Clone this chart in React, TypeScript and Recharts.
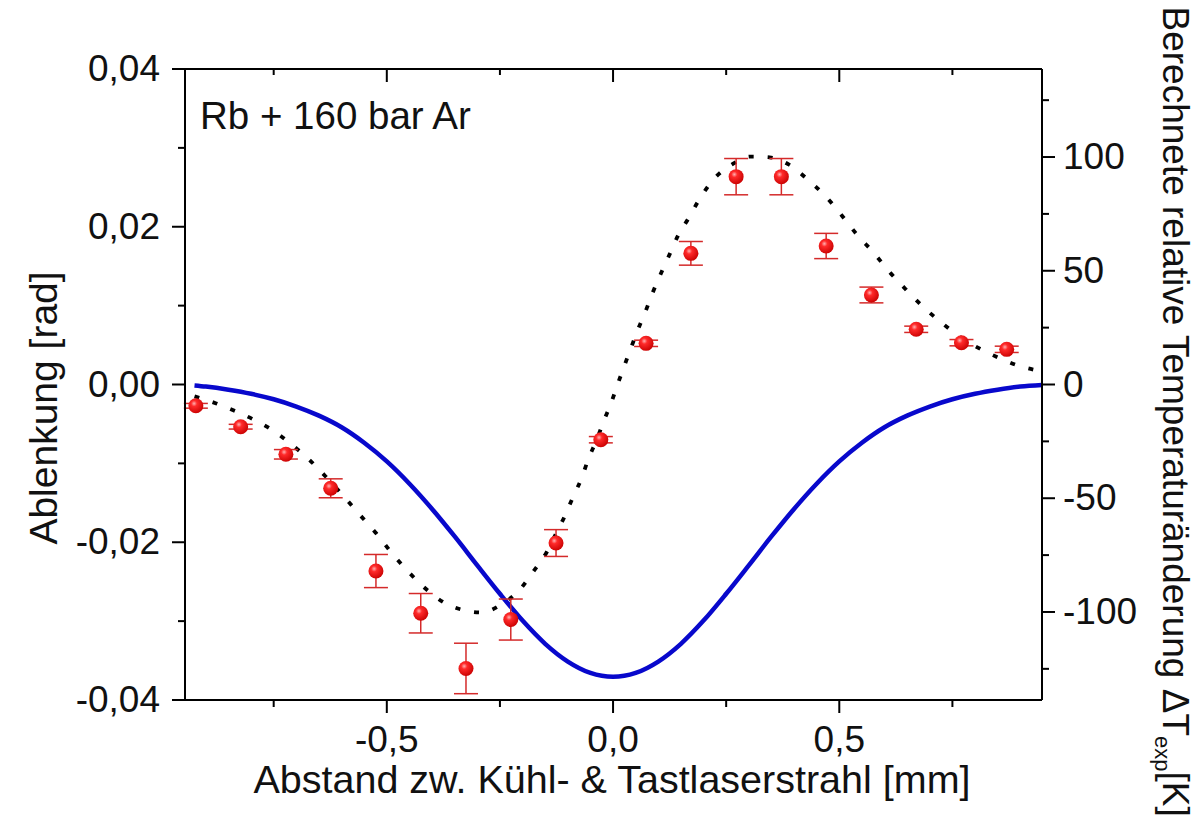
import React from "react";
import { ComposedChart, Line, Scatter, XAxis, YAxis, ErrorBar } from "recharts";

// ---- measured points (Ablenkung, left axis) ----
const pointX = [-0.922, -0.823, -0.723, -0.624, -0.524, -0.425, -0.325, -0.226, -0.126, -0.027, 0.073, 0.172, 0.272, 0.372, 0.471, 0.571, 0.670, 0.770, 0.870];
const pointY = [-0.0027, -0.00535, -0.00885, -0.01316, -0.02365, -0.029, -0.036, -0.0298, -0.0201, -0.007, 0.00522, 0.01663, 0.02635, 0.02635, 0.01756, 0.01135, 0.007, 0.0053, 0.00446];
const pointErr = [0.0003, 0.0003, 0.0006, 0.0012, 0.0021, 0.0025, 0.0032, 0.0026, 0.0017, 0.0004, 0.0004, 0.0015, 0.0023, 0.0023, 0.0016, 0.001, 0.0004, 0.0004, 0.0004];

// ---- dotted curve (left axis) ----
const dottedX = [-0.925, -0.877, -0.838, -0.796, -0.755, -0.713, -0.672, -0.633, -0.595, -0.56, -0.523, -0.49, -0.453, -0.414, -0.372, -0.331, -0.29, -0.25, -0.206, -0.176, -0.147, -0.126, -0.106, -0.088, -0.069, -0.055, -0.036, -0.021, -0.004, 0.01, 0.024, 0.04, 0.056, 0.072, 0.088, 0.106, 0.125, 0.143, 0.167, 0.19, 0.222, 0.263, 0.303, 0.346, 0.388, 0.428, 0.469, 0.506, 0.539, 0.576, 0.609, 0.648, 0.688, 0.729, 0.77, 0.812, 0.852, 0.895, 0.936];
const dottedY = [-0.0015, -0.0024, -0.0033, -0.0044, -0.0057, -0.0075, -0.0095, -0.0118, -0.0142, -0.0165, -0.0189, -0.0213, -0.0237, -0.0259, -0.0277, -0.0286, -0.0289, -0.028, -0.026, -0.0237, -0.0213, -0.0189, -0.0166, -0.0142, -0.0118, -0.0095, -0.007, -0.0047, -0.0023, 0.0, 0.0022, 0.0047, 0.0071, 0.0093, 0.0117, 0.0141, 0.0165, 0.0188, 0.0211, 0.0234, 0.026, 0.0279, 0.0289, 0.0288, 0.0279, 0.0261, 0.0239, 0.0214, 0.019, 0.0167, 0.0144, 0.012, 0.0097, 0.0077, 0.0059, 0.0045, 0.0034, 0.0024, 0.0018];

// ---- blue curve (right axis, ΔT) ----
const blueX = [-0.925, -0.9, -0.85, -0.8, -0.75, -0.7, -0.65, -0.6, -0.55, -0.5, -0.45, -0.4, -0.35, -0.3, -0.25, -0.2, -0.15, -0.1, -0.05, 0, 0.05, 0.1, 0.15, 0.2, 0.25, 0.3, 0.35, 0.4, 0.45, 0.5, 0.55, 0.6, 0.65, 0.7, 0.75, 0.8, 0.85, 0.9, 0.948];
const blueY = [-0.4, -0.9, -2.3, -4.1, -6.5, -9.7, -13.7, -18.8, -25.6, -33.8, -43.6, -54.7, -66.8, -79.5, -92.0, -103.8, -114.0, -121.8, -126.8, -128.5, -126.8, -121.8, -114.0, -103.8, -92.0, -79.5, -66.8, -54.7, -43.6, -33.8, -25.6, -18.8, -13.7, -9.7, -6.5, -4.1, -2.3, -0.9, -0.2];

// ---- ticks ----
const xMajorTicks = [-0.5, 0, 0.5];
const xMinorTicks = [-0.75, -0.25, 0.25, 0.75];
const xTickLabels = ["-0,5", "0,0", "0,5"];
const leftMajorTicks = [-0.04, -0.02, 0, 0.02, 0.04];
const leftMinorTicks = [-0.03, -0.01, 0.01, 0.03];
const leftTickLabels = ["-0,04", "-0,02", "0,00", "0,02", "0,04"];
const rightMajorTicks = [-100, -50, 0, 50, 100];
const rightMinorTicks = [-125, -75, -25, 25, 75, 125];
const rightTickLabels = ["-100", "-50", "0", "50", "100"];

const xDomain: [number, number] = [-0.946, 0.948];
const leftDomain: [number, number] = [-0.04, 0.04];
const rightDomain: [number, number] = [-138.7, 138.7];

const pointData = pointX.map((x, i) => ({ x, y: pointY[i], err: pointErr[i] }));
const dottedData = dottedX.map((x, i) => ({ x, y: dottedY[i] }));
const blueData = blueX.map((x, i) => ({ x, y: blueY[i] }));

const FONT = '"Liberation Sans", Arial, Helvetica, sans-serif';
const TICK_FS = 37;

const findIdx = (v: number, arr: number[]) => arr.findIndex((m) => Math.abs(m - v) < 1e-9);

const BottomTick = (props: any) => {
  const { x, y, payload } = props;
  const i = findIdx(payload.value, xMajorTicks);
  const major = i >= 0;
  return (
    <g>
      <line x1={x} x2={x} y1={y} y2={y + (major ? 13 : 7)} stroke="#000" strokeWidth={2} />
      {major && (
        <text x={x} y={y + 52} textAnchor="middle" fontSize={TICK_FS} fontFamily={FONT} fill="#111">
          {xTickLabels[i]}
        </text>
      )}
    </g>
  );
};

const TopTick = (props: any) => {
  const { x, y, payload } = props;
  const major = findIdx(payload.value, xMajorTicks) >= 0;
  return <line x1={x} x2={x} y1={y} y2={y + (major ? 13 : 6)} stroke="#000" strokeWidth={2} />;
};

const LeftTick = (props: any) => {
  const { x, y, payload } = props;
  const i = findIdx(payload.value, leftMajorTicks);
  const major = i >= 0;
  return (
    <g>
      <line x1={x - (major ? 13 : 7)} x2={x} y1={y} y2={y} stroke="#000" strokeWidth={2} />
      {major && (
        <text x={x - 25} y={y + 12} textAnchor="end" fontSize={TICK_FS} fontFamily={FONT} fill="#111">
          {leftTickLabels[i]}
        </text>
      )}
    </g>
  );
};

const RightTick = (props: any) => {
  const { x, y, payload } = props;
  const i = findIdx(payload.value, rightMajorTicks);
  const major = i >= 0;
  return (
    <g>
      <line x1={x} x2={x + (major ? 13 : 7)} y1={y} y2={y} stroke="#000" strokeWidth={2} />
      {major && (
        <text x={x + 21} y={y + 12} textAnchor="start" fontSize={TICK_FS} fontFamily={FONT} fill="#111">
          {rightTickLabels[i]}
        </text>
      )}
    </g>
  );
};

const SphereMarker = (props: any) => {
  const { cx, cy } = props;
  if (cx == null || cy == null) return <g />;
  return (
    <g>
      <defs>
        <radialGradient id="redSphere" cx="38%" cy="35%" r="70%">
          <stop offset="0%" stopColor="#ffb0b0" />
          <stop offset="28%" stopColor="#ff2a2a" />
          <stop offset="100%" stopColor="#c80000" />
        </radialGradient>
      </defs>
      <circle cx={cx} cy={cy} r={7.5} fill="url(#redSphere)" />
    </g>
  );
};

const axisLineStyle = { stroke: "#000", strokeWidth: 2 };

export default function App() {
  return (
    <div style={{ position: "absolute", left: 0, top: 0, width: 1198, height: 828, background: "#fff" }}>
      <ComposedChart
        width={1198}
        height={828}
        margin={{ top: 68, right: 56, bottom: 68, left: 85 }}
      >
        <XAxis
          xAxisId={0}
          type="number"
          dataKey="x"
          domain={xDomain}
          allowDataOverflow
          ticks={[...xMinorTicks, ...xMajorTicks].sort((a, b) => a - b)}
          interval={0}
          height={60}
          tickSize={0}
          tickMargin={0}
          tickLine={false}
          axisLine={axisLineStyle}
          tick={BottomTick}
        />
        <XAxis
          xAxisId="top"
          orientation="top"
          type="number"
          dataKey="x"
          domain={xDomain}
          allowDataOverflow
          ticks={[...xMinorTicks, ...xMajorTicks].sort((a, b) => a - b)}
          interval={0}
          height={1}
          tickSize={0}
          tickMargin={0}
          tickLine={false}
          axisLine={axisLineStyle}
          tick={TopTick}
        />
        <YAxis
          yAxisId="left"
          type="number"
          domain={leftDomain}
          allowDataOverflow
          ticks={[...leftMinorTicks, ...leftMajorTicks].sort((a, b) => a - b)}
          interval={0}
          width={100}
          tickSize={0}
          tickMargin={0}
          tickLine={false}
          axisLine={axisLineStyle}
          tick={LeftTick}
        />
        <YAxis
          yAxisId="right"
          orientation="right"
          type="number"
          domain={rightDomain}
          allowDataOverflow
          ticks={[...rightMinorTicks, ...rightMajorTicks].sort((a, b) => a - b)}
          interval={0}
          width={100}
          tickSize={0}
          tickMargin={0}
          tickLine={false}
          axisLine={axisLineStyle}
          tick={RightTick}
        />
        <Line
          yAxisId="right"
          data={blueData}
          dataKey="y"
          type="monotone"
          stroke="#0808cc"
          strokeWidth={4.5}
          dot={false}
          activeDot={false}
          isAnimationActive={false}
        />
        <Line
          yAxisId="left"
          data={dottedData}
          dataKey="y"
          type="monotone"
          stroke="#000"
          strokeWidth={3.8}
          strokeDasharray="5 14"
          dot={false}
          activeDot={false}
          isAnimationActive={false}
        />
        <Scatter
          yAxisId="left"
          data={pointData}
          dataKey="y"
          shape={SphereMarker}
          isAnimationActive={false}
        >
          <ErrorBar dataKey="err" direction="y" width={12} stroke="#d42a2a" strokeWidth={1.5} />
        </Scatter>
      </ComposedChart>
      <svg
        width={1198}
        height={828}
        style={{ position: "absolute", left: 0, top: 0, pointerEvents: "none" }}
      >
        <text x={200} y={129} fontSize={38.5} fontFamily={FONT} fill="#111">
          Rb + 160 bar Ar
        </text>
        <text
          transform="translate(57,408) rotate(-90)"
          textAnchor="middle"
          fontSize={39}
          fontFamily={FONT}
          fill="#111"
        >
          Ablenkung [rad]
        </text>
        <text x={612} y={793} textAnchor="middle" fontSize={39.5} fontFamily={FONT} fill="#111">
          {"Abstand zw. Kühl- & Tastlaserstrahl [mm]"}
        </text>
        <text transform="translate(1163,6.5) rotate(90)" fontSize={37} fontFamily={FONT} fill="#111">
          {"Berechnete relative Temperaturänderung ΔT"}
          <tspan fontSize={22} dy={8}>exp</tspan>
          <tspan dy={-8}>[K]</tspan>
        </text>
      </svg>
    </div>
  );
}
